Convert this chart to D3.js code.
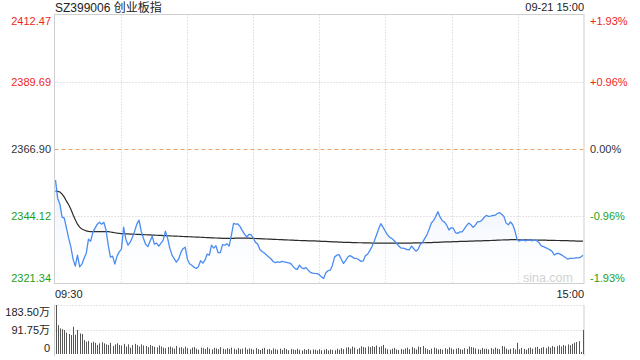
<!DOCTYPE html>
<html><head><meta charset="utf-8">
<script src="https://cdn.jsdelivr.net/npm/d3@7"></script>
<style>
body{margin:0;background:#fff}
svg{display:block}
text{font-family:"Liberation Sans",Arial,"Noto Sans CJK SC",sans-serif}
</style>
</head><body>
<svg id="c" width="640" height="360"></svg>
<script>
const title = "SZ399006 创业板指";
const dateLabel = "09-21 15:00";
const prevClose = 2366.90;
const priceTicks = [2412.47, 2389.69, 2366.90, 2344.12, 2321.34];
const pctTicks = ["+1.93%", "+0.96%", "0.00%", "-0.96%", "-1.93%"];
const timeLabels = ["09:30", "15:00"];
const volTicks = [183.5, 91.75, 0];
const volTickLabels = ["183.50万", "91.75万", "0"];
const watermark = "sina.com";

const price = [
2356.34,2350.25,2348.21,2343.81,2343.47,2340.08,2336.70,2333.65,2329.58,2327.21,
2330.94,2326.97,2327.89,2329.92,2331.61,2336.36,2335.68,2338.73,2340.08,2341.44,
2342.12,2341.44,2342.12,2339.41,2334.32,2330.26,2330.60,2327.89,2330.60,2332.05,
2332.97,2340.42,2336.36,2334.32,2335.34,2337.03,2339.07,2341.44,2342.79,2339.07,
2336.70,2334.66,2333.82,2335.68,2337.37,2334.66,2335.00,2333.99,2335.00,2336.02,
2339.07,2336.70,2333.31,2330.94,2329.75,2328.57,2329.58,2331.78,2333.14,2333.65,
2329.58,2328.06,2327.55,2326.87,2326.43,2327.04,2329.07,2328.23,2329.24,2331.27,
2330.94,2334.32,2333.31,2334.15,2331.78,2331.78,2334.49,2334.32,2334.83,2333.99,
2337.54,2341.67,2341.44,2341.50,2340.59,2339.24,2338.05,2337.10,2337.95,2337.85,
2336.70,2335.27,2334.73,2332.87,2332.19,2331.65,2331.00,2330.32,2329.72,2328.80,
2328.40,2328.63,2328.50,2328.84,2328.67,2328.53,2328.36,2328.12,2327.21,2326.36,
2326.13,2327.55,2326.60,2326.36,2326.74,2325.85,2325.11,2324.87,2324.74,2324.67,
2324.33,2323.59,2323.04,2325.01,2325.69,2325.85,2327.55,2330.36,2330.94,2331.11,
2329.62,2328.12,2329.07,2330.32,2330.77,2330.36,2329.82,2329.82,2329.38,2328.84,
2328.97,2330.77,2331.27,2332.46,2333.88,2335.68,2337.71,2339.85,2341.61,2340.42,
2339.13,2337.88,2337.00,2336.63,2335.92,2335.14,2334.22,2333.44,2333.31,2333.14,
2332.80,2332.77,2333.99,2333.10,2332.29,2332.97,2334.66,2335.27,2336.63,2337.81,
2339.74,2341.84,2342.66,2344.08,2345.67,2343.81,2342.59,2342.12,2341.10,2339.47,
2340.25,2340.08,2338.56,2338.32,2338.83,2338.86,2339.85,2340.93,2341.81,2341.27,
2340.35,2341.10,2342.22,2342.28,2342.79,2343.71,2344.42,2344.08,2344.18,2344.38,
2344.42,2345.06,2345.37,2344.79,2344.08,2341.88,2341.23,2342.18,2341.34,2339.27,
2336.29,2335.68,2336.12,2336.05,2335.81,2336.15,2336.02,2335.81,2336.22,2335.81,
2335.17,2334.09,2333.82,2333.48,2333.10,2332.73,2332.16,2331.00,2331.51,2331.51,
2331.11,2330.63,2330.12,2329.62,2329.82,2329.82,2329.92,2330.02,2330.02,2330.29,
2330.94
];

const avgPrice = [
2352.62,2352.52,2352.35,2351.60,2350.59,2349.23,2348.04,2346.52,2344.66,2342.96,
2341.44,2340.42,2339.81,2339.47,2339.17,2339.00,2338.93,2338.90,2338.90,2338.90,
2338.90,2338.93,2338.93,2338.93,2338.90,2338.79,2338.66,2338.53,2338.39,2338.32,
2338.25,2338.19,2338.15,2338.12,2338.08,2338.05,2338.02,2337.98,2337.95,2337.91,
2337.88,2337.85,2337.81,2337.78,2337.74,2337.71,2337.68,2337.64,2337.61,2337.58,
2337.54,2337.51,2337.47,2337.44,2337.40,2337.37,2337.34,2337.30,2337.27,2337.23,
2337.20,2337.17,2337.13,2337.10,2337.07,2337.03,2337.00,2336.96,2336.93,2336.90,
2336.86,2336.83,2336.79,2336.76,2336.73,2336.69,2336.66,2336.62,2336.62,2336.62,
2336.62,2336.66,2336.69,2336.73,2336.73,2336.73,2336.73,2336.69,2336.69,2336.66,
2336.62,2336.59,2336.56,2336.52,2336.49,2336.45,2336.42,2336.39,2336.35,2336.32,
2336.29,2336.25,2336.22,2336.19,2336.15,2336.12,2336.08,2336.05,2336.02,2335.98,
2335.95,2335.91,2335.88,2335.85,2335.85,2335.81,2335.81,2335.78,2335.75,2335.71,
2335.68,2335.64,2335.61,2335.58,2335.54,2335.51,2335.47,2335.44,2335.41,2335.37,
2335.34,2335.30,2335.27,2335.24,2335.24,2335.20,2335.17,2335.17,2335.14,2335.14,
2335.10,2335.10,2335.07,2335.07,2335.03,2335.03,2335.00,2335.00,2335.00,2335.00,
2335.00,2335.00,2335.00,2335.00,2335.00,2335.00,2335.00,2335.00,2335.00,2335.00,
2335.00,2335.03,2335.03,2335.07,2335.07,2335.10,2335.10,2335.14,2335.14,2335.17,
2335.17,2335.20,2335.24,2335.27,2335.30,2335.34,2335.37,2335.41,2335.41,2335.44,
2335.47,2335.51,2335.51,2335.54,2335.58,2335.58,2335.61,2335.64,2335.68,2335.68,
2335.71,2335.75,2335.75,2335.78,2335.81,2335.85,2335.85,2335.88,2335.91,2335.95,
2335.98,2336.02,2336.05,2336.08,2336.12,2336.15,2336.15,2336.19,2336.19,2336.19,
2336.19,2336.15,2336.15,2336.15,2336.12,2336.12,2336.12,2336.08,2336.08,2336.08,
2336.05,2336.05,2336.02,2336.02,2335.98,2335.98,2335.95,2335.95,2335.91,2335.91,
2335.88,2335.88,2335.85,2335.85,2335.81,2335.78,2335.75,2335.71,2335.68,2335.68,
2335.68
];

const volume = [
183.5,108,96,93,90,80,75,71,102,72,
90,77,75,52,46,49,42,46,42,34,
40,44,40,36,34,42,30,36,40,34,
32,38,28,36,24,34,38,33,28,36,
32,30,26,34,30,27,25,32,28,24,
22,26,28,24,20,30,24,26,21,28,
22,18,24,26,20,16,24,22,19,25,
20,17,23,21,18,26,20,17,22,19,
24,20,16,22,18,20,24,17,21,19,
16,22,18,15,20,23,17,19,14,21,
18,16,20,15,22,18,14,19,17,15,
20,16,13,18,15,19,14,17,16,13,
18,14,16,19,13,17,15,14,20,16,
22,18,24,26,20,28,24,18,22,29,
26,24,28,26,30,27,32,26,29,34,
22,18,16,20,23,17,15,19,16,21,
24,18,26,22,17,28,26,30,22,18,
15,20,24,21,17,19,16,22,18,25,
21,17,20,23,18,16,22,19,28,26,
24,21,18,16,23,19,20,17,22,18,
24,20,18,30,28,20,16,19,22,17,
42,18,23,19,16,22,24,20,25,27,
19,23,26,22,28,24,30,26,29,33,
28,34,31,36,33,38,42,45,48,8,
90
];

const svg = d3.select("#c");
const L = 54.5, R = 584, T = 14.5, B = 283.5;
const VT = 305, VB = 354;
const red = "#f0261b", green = "#1ca01c", dark = "#333";

const x = d3.scaleLinear().domain([0, 240]).range([55.5, 583]);
const y = d3.scaleLinear().domain([priceTicks[4], priceTicks[0]]).range([B, T]);
const yv = d3.scaleLinear().domain([0, volTicks[0]]).range([VB, VT]);
const xg = d3.scaleLinear().domain([0, 8]).range([L, R]);

// gradient for area
const defs = svg.append("defs");
const grad = defs.append("linearGradient").attr("id", "ag")
  .attr("gradientUnits", "userSpaceOnUse").attr("x1", 0).attr("x2", 0)
  .attr("y1", y(d3.max(price))).attr("y2", B);
grad.append("stop").attr("offset", "0%").attr("stop-color", "#e3edfc").attr("stop-opacity", 0.9);
grad.append("stop").attr("offset", "100%").attr("stop-color", "#ffffff").attr("stop-opacity", 0.2);

// vertical dotted grid
svg.append("g").selectAll("line").data(d3.range(1, 8)).join("line")
  .attr("x1", d => Math.round(xg(d)) + 0.5).attr("x2", d => Math.round(xg(d)) + 0.5)
  .attr("y1", T).attr("y2", B)
  .attr("stroke", "#c8c8c8").attr("stroke-dasharray", "1,2");

// horizontal grid (main)
svg.append("g").selectAll("line").data([priceTicks[1], priceTicks[3]]).join("line")
  .attr("x1", L).attr("x2", R)
  .attr("y1", d => Math.round(y(d)) + 0.5).attr("y2", d => Math.round(y(d)) + 0.5)
  .attr("stroke", "#c8c8c8").attr("stroke-dasharray", "1,2");
svg.append("line")
  .attr("x1", L).attr("x2", R)
  .attr("y1", Math.round(y(prevClose)) + 0.5).attr("y2", Math.round(y(prevClose)) + 0.5)
  .attr("stroke", "#f2a46e").attr("stroke-dasharray", "4,3");

// area + lines
const area = d3.area().x((d, i) => x(i)).y0(B).y1(d => y(d));
svg.append("path").datum(price).attr("d", area).attr("fill", "url(#ag)");

svg.append("text").attr("x", 573).attr("y", 282).attr("text-anchor", "end")
  .attr("font-size", 12.5).attr("fill", "#d2d2d2").text(watermark);

const line = d3.line().x((d, i) => x(i)).y(d => y(d));
svg.append("path").datum(avgPrice).attr("d", line)
  .attr("fill", "none").attr("stroke", "#2b2b2b").attr("stroke-width", 1.2);
svg.append("path").datum(price).attr("d", line)
  .attr("fill", "none").attr("stroke", "#4a8cf2").attr("stroke-width", 1.3)
  .attr("stroke-linejoin", "round");

// main border
svg.append("rect").attr("x", L).attr("y", T).attr("width", R - L).attr("height", B - T)
  .attr("fill", "none").attr("stroke", "#cfcfcf");

// price labels
const lblY = (v, i) => y(v) + 4 + (i === 0 ? 6 : i === 4 ? -5.5 : 0);
const lblColor = i => i < 2 ? red : i === 2 ? dark : green;
svg.append("g").selectAll("text").data(priceTicks).join("text")
  .attr("x", 51).attr("y", (d, i) => lblY(d, i)).attr("text-anchor", "end")
  .attr("font-size", 11).attr("fill", (d, i) => lblColor(i))
  .text(d => d.toFixed(2));
svg.append("g").selectAll("text").data(pctTicks).join("text")
  .attr("x", 590).attr("y", (d, i) => lblY(priceTicks[i], i)).attr("text-anchor", "start")
  .attr("font-size", 11).attr("fill", (d, i) => lblColor(i))
  .text(d => d);

// title + date
svg.append("text").attr("x", 55).attr("y", 12).attr("font-size", 12).attr("fill", "#222").text(title);
svg.append("text").attr("x", 584).attr("y", 11).attr("text-anchor", "end")
  .attr("font-size", 11).attr("fill", "#222").text(dateLabel);

// time labels
svg.append("text").attr("x", 55).attr("y", 297.5).attr("font-size", 11).attr("fill", "#222").text(timeLabels[0]);
svg.append("text").attr("x", 584).attr("y", 297.5).attr("text-anchor", "end").attr("font-size", 11).attr("fill", "#222").text(timeLabels[1]);

// volume panel
svg.append("g").selectAll("line").data([volTicks[0], volTicks[1]]).join("line")
  .attr("x1", L).attr("x2", R)
  .attr("y1", d => Math.round(yv(d)) + 0.5).attr("y2", d => Math.round(yv(d)) + 0.5)
  .attr("stroke", "#c8c8c8").attr("stroke-dasharray", "1,2");
svg.append("line").attr("x1", L).attr("x2", L).attr("y1", VT).attr("y2", 356).attr("stroke", "#cfcfcf");
svg.append("line").attr("x1", R).attr("x2", R).attr("y1", VT).attr("y2", 356).attr("stroke", "#cfcfcf");

svg.append("g").selectAll("rect").data(volume).join("rect")
  .attr("x", (d, i) => Math.round(x(i)))
  .attr("width", 1)
  .attr("y", d => yv(d))
  .attr("height", d => VB - yv(d))
  .attr("fill", "#555");

const vLblY = (v, i) => yv(v) + 4 + (i === 0 ? 7 : i === 2 ? -6 : 0);
svg.append("g").selectAll("text").data(volTicks).join("text")
  .attr("x", 50).attr("y", (d, i) => vLblY(d, i)).attr("text-anchor", "end")
  .attr("font-size", 11).attr("fill", "#222")
  .text((d, i) => volTickLabels[i]);
</script>
</body></html>
